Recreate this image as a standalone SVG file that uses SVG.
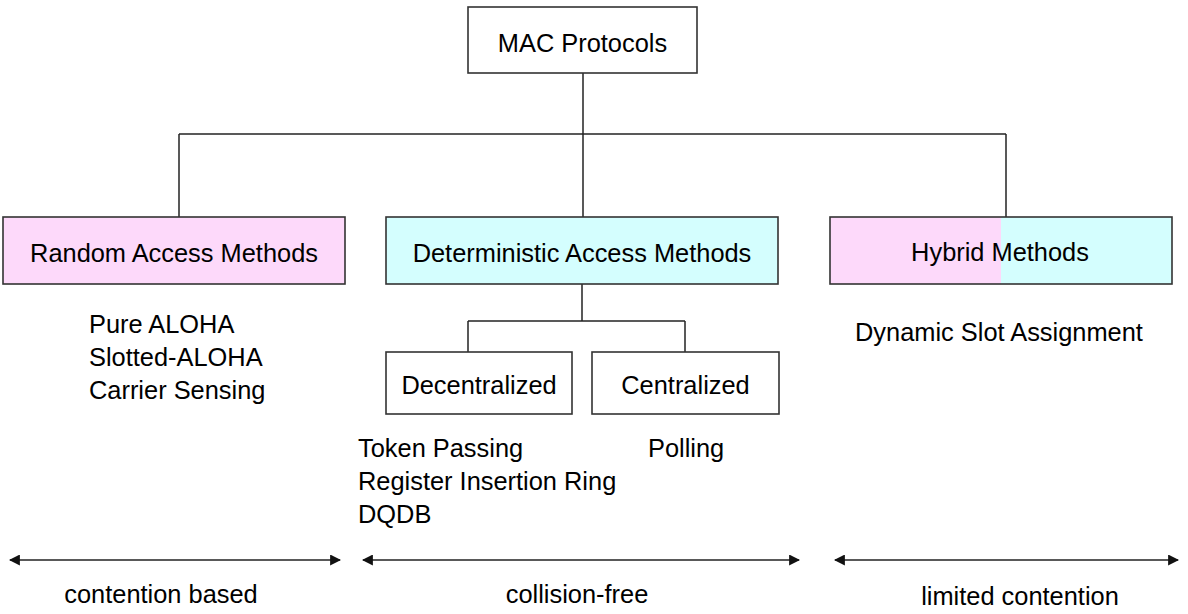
<svg xmlns="http://www.w3.org/2000/svg" width="1188" height="614" viewBox="0 0 1188 614">
<style>
text{font-family:"Liberation Sans",Arial,sans-serif;font-size:25.4px;fill:#000}
.c{text-anchor:middle}
.box{stroke:#333;stroke-width:1.6}
.ln{stroke:#222;stroke-width:1.5;fill:none}
.ar{stroke:#222;stroke-width:1.5;fill:none;marker-start:url(#ah);marker-end:url(#ah)}
</style>
<defs>
<marker id="ah" viewBox="0 0 10 10" refX="9" refY="5" markerWidth="11" markerHeight="11" markerUnits="userSpaceOnUse" orient="auto-start-reverse">
<path d="M0,0 L10,5 L0,10 z" fill="#111"/>
</marker>
</defs>
<rect width="1188" height="614" fill="#fff"/>
<g id="connectors">
<path class="ln" d="M583,73 V217"/>
<path class="ln" d="M179,134 H1006"/>
<path class="ln" d="M179,134 V217"/>
<path class="ln" d="M1006,134 V217"/>
<path class="ln" d="M582,284 V321"/>
<path class="ln" d="M468,321 H685"/>
<path class="ln" d="M468,321 V352"/>
<path class="ln" d="M685,321 V352"/>
<path class="ar" d="M10,560 H340"/>
<path class="ar" d="M363,560 H799"/>
<path class="ar" d="M835,560 H1178"/>
</g>
<g id="mac">
<rect class="box" x="468" y="7" width="229" height="66" fill="#fff"/>
<text class="c" x="582.5" y="52">MAC Protocols</text>
</g>
<g id="random">
<rect class="box" x="3" y="217" width="342" height="67" fill="#FDD9FA"/>
<text class="c" x="174" y="262">Random Access Methods</text>
</g>
<g id="deterministic">
<rect class="box" x="386" y="217" width="392" height="67" fill="#D4FEFE"/>
<text class="c" x="582" y="262">Deterministic Access Methods</text>
</g>
<g id="hybrid">
<rect x="830" y="217" width="171" height="67" fill="#FDD9FA"/>
<rect x="1001" y="217" width="171" height="67" fill="#D4FEFE"/>
<rect class="box" x="830" y="217" width="342" height="67" fill="none"/>
<text class="c" x="1000" y="261">Hybrid Methods</text>
</g>
<g id="decentralized">
<rect class="box" x="386" y="352" width="186" height="62" fill="#fff"/>
<text class="c" x="479" y="394">Decentralized</text>
</g>
<g id="centralized">
<rect class="box" x="592" y="352" width="187" height="62" fill="#fff"/>
<text class="c" x="685.5" y="394">Centralized</text>
</g>
<g id="random-list">
<text x="89" y="333">Pure ALOHA</text>
<text x="89" y="366">Slotted-ALOHA</text>
<text x="89" y="399">Carrier Sensing</text>
</g>
<g id="hybrid-list">
<text x="855" y="341">Dynamic Slot Assignment</text>
</g>
<g id="decentralized-list">
<text x="358" y="457">Token Passing</text>
<text x="358" y="490">Register Insertion Ring</text>
<text x="358" y="523">DQDB</text>
</g>
<g id="centralized-list">
<text x="648" y="457">Polling</text>
</g>
<g id="labels">
<text class="c" x="161" y="603">contention based</text>
<text class="c" x="577" y="603">collision-free</text>
<text class="c" x="1020" y="605">limited contention</text>
</g>
</svg>
